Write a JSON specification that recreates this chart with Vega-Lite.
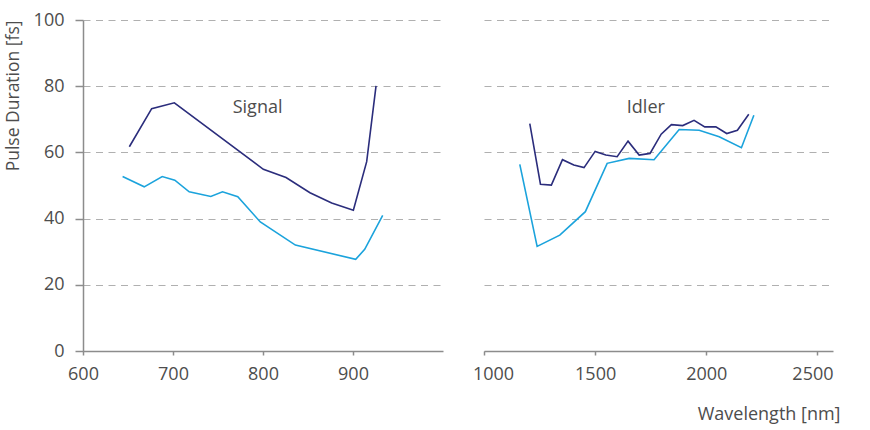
{
  "$schema": "https://vega.github.io/schema/vega-lite/v6.json",
  "padding": {"left": 4, "top": 11, "right": 5, "bottom": 5},
  "background": "white",
  "config": {
    "font": "Open Sans",
    "view": {"stroke": null},
    "axis": {
      "domainColor": "#8c8c8c",
      "domainWidth": 1.5,
      "tickColor": "#8c8c8c",
      "tickWidth": 1.5,
      "labelColor": "#4d4d4d",
      "labelFont": "Open Sans",
      "labelFontSize": 18,
      "labelFlush": false,
      "titleFont": "Open Sans",
      "titleFontSize": 18,
      "titleColor": "#4d4d4d",
      "titleFontWeight": "normal",
      "gridColor": "#b0b0b0",
      "gridWidth": 1.2,
      "gridDash": [7, 5.5]
    }
  },
  "datasets": {
    "signal": [
      {"series": "Series 1", "wavelength": 651.5, "duration": 61.7},
      {"series": "Series 1", "wavelength": 676.3, "duration": 73.2},
      {"series": "Series 1", "wavelength": 701.5, "duration": 75.0},
      {"series": "Series 1", "wavelength": 800.4, "duration": 54.9},
      {"series": "Series 1", "wavelength": 825.6, "duration": 52.4},
      {"series": "Series 1", "wavelength": 852.2, "duration": 47.8},
      {"series": "Series 1", "wavelength": 876.3, "duration": 44.7},
      {"series": "Series 1", "wavelength": 900.4, "duration": 42.5},
      {"series": "Series 1", "wavelength": 915.2, "duration": 57.2},
      {"series": "Series 1", "wavelength": 925.6, "duration": 80.1},
      {"series": "Series 2", "wavelength": 644, "duration": 52.7},
      {"series": "Series 2", "wavelength": 668, "duration": 49.6},
      {"series": "Series 2", "wavelength": 688, "duration": 52.7},
      {"series": "Series 2", "wavelength": 702, "duration": 51.6},
      {"series": "Series 2", "wavelength": 718, "duration": 48.1},
      {"series": "Series 2", "wavelength": 742, "duration": 46.7},
      {"series": "Series 2", "wavelength": 755, "duration": 48.1},
      {"series": "Series 2", "wavelength": 772, "duration": 46.6},
      {"series": "Series 2", "wavelength": 797, "duration": 39.0},
      {"series": "Series 2", "wavelength": 836, "duration": 32.0},
      {"series": "Series 2", "wavelength": 903, "duration": 27.7},
      {"series": "Series 2", "wavelength": 913, "duration": 30.7},
      {"series": "Series 2", "wavelength": 933, "duration": 41.0}
    ],
    "idler": [
      {"series": "Series 1", "wavelength": 1206, "duration": 68.7},
      {"series": "Series 1", "wavelength": 1254, "duration": 50.4},
      {"series": "Series 1", "wavelength": 1303, "duration": 50.1},
      {"series": "Series 1", "wavelength": 1353, "duration": 57.8},
      {"series": "Series 1", "wavelength": 1404, "duration": 56.2},
      {"series": "Series 1", "wavelength": 1450, "duration": 55.4},
      {"series": "Series 1", "wavelength": 1500, "duration": 60.3},
      {"series": "Series 1", "wavelength": 1548, "duration": 59.2},
      {"series": "Series 1", "wavelength": 1599, "duration": 58.7},
      {"series": "Series 1", "wavelength": 1648, "duration": 63.4},
      {"series": "Series 1", "wavelength": 1698, "duration": 59.2},
      {"series": "Series 1", "wavelength": 1747, "duration": 59.7},
      {"series": "Series 1", "wavelength": 1797, "duration": 65.5},
      {"series": "Series 1", "wavelength": 1843, "duration": 68.4},
      {"series": "Series 1", "wavelength": 1894, "duration": 68.1},
      {"series": "Series 1", "wavelength": 1945, "duration": 69.7},
      {"series": "Series 1", "wavelength": 1993, "duration": 67.7},
      {"series": "Series 1", "wavelength": 2043, "duration": 67.7},
      {"series": "Series 1", "wavelength": 2092, "duration": 65.7},
      {"series": "Series 1", "wavelength": 2140, "duration": 66.7},
      {"series": "Series 1", "wavelength": 2191, "duration": 71.5},
      {"series": "Series 2", "wavelength": 1161, "duration": 56.4},
      {"series": "Series 2", "wavelength": 1239, "duration": 31.6},
      {"series": "Series 2", "wavelength": 1341, "duration": 35.0},
      {"series": "Series 2", "wavelength": 1456, "duration": 42.1},
      {"series": "Series 2", "wavelength": 1554, "duration": 56.7},
      {"series": "Series 2", "wavelength": 1653, "duration": 58.2},
      {"series": "Series 2", "wavelength": 1765, "duration": 57.8},
      {"series": "Series 2", "wavelength": 1878, "duration": 66.9},
      {"series": "Series 2", "wavelength": 1968, "duration": 66.7},
      {"series": "Series 2", "wavelength": 2058, "duration": 64.7},
      {"series": "Series 2", "wavelength": 2158, "duration": 61.4},
      {"series": "Series 2", "wavelength": 2214, "duration": 71.2}
    ]
  },
  "spacing": 29,
  "hconcat": [
    {
      "width": 360,
      "height": 331,
      "layer": [
        {
          "data": {"name": "signal"},
          "mark": {"type": "line", "strokeWidth": 1.6},
          "encoding": {
            "x": {
              "field": "wavelength", "type": "quantitative",
              "scale": {"domain": [600, 1000], "nice": false},
              "axis": {"values": [600, 700, 800, 900], "format": "d", "title": null, "grid": false, "tickSize": 4, "labelPadding": 10, "labelFlush": false}
            },
            "y": {
              "field": "duration", "type": "quantitative",
              "scale": {"domain": [0, 100], "nice": false},
              "axis": {"values": [0, 20, 40, 60, 80, 100], "title": "Pulse Duration [fs]", "titleFontSize": 17.5, "titleAnchor": "end", "titlePadding": 11, "grid": true, "tickSize": 8, "labelPadding": 11}
            },
            "color": {
              "field": "series", "type": "nominal",
              "scale": {"domain": ["Series 1", "Series 2"], "range": ["#2b2d7c", "#1ba3dc"]},
              "legend": null
            }
          }
        },
        {
          "data": {"values": [{"label": "Signal"}]},
          "mark": {"type": "text", "fontSize": 18, "color": "#4d4d4d", "font": "Open Sans"},
          "encoding": {
            "x": {"datum": 794},
            "y": {"datum": 73.4},
            "text": {"field": "label"}
          }
        }
      ]
    },
    {
      "width": 349,
      "height": 331,
      "layer": [
        {
          "data": {"name": "idler"},
          "mark": {"type": "line", "strokeWidth": 1.6},
          "encoding": {
            "x": {
              "field": "wavelength", "type": "quantitative",
              "scale": {"domain": [1000, 2570], "nice": false},
              "axis": {
                "values": [1000, 1500, 2000, 2500],
                "format": "d",
                "title": "Wavelength [nm]",
                "titleAnchor": "end", "titleAlign": "right", "titleX": 356, "titleY": 68, "titleBaseline": "alphabetic",
                "grid": false, "tickSize": 4, "labelPadding": 10, "labelFlush": false,
                "labelOffset": {"condition": [{"test": "datum.value == 1000", "value": 9}, {"test": "datum.value == 2500", "value": -5}], "value": 0}
              }
            },
            "y": {
              "field": "duration", "type": "quantitative",
              "scale": {"domain": [0, 100], "nice": false},
              "axis": {"values": [0, 20, 40, 60, 80, 100], "title": null, "grid": true, "domain": false, "ticks": false, "labels": false}
            },
            "color": {
              "field": "series", "type": "nominal",
              "scale": {"domain": ["Series 1", "Series 2"], "range": ["#2b2d7c", "#1ba3dc"]},
              "legend": null
            }
          }
        },
        {
          "data": {"values": [{"label": "Idler"}]},
          "mark": {"type": "text", "fontSize": 18, "color": "#4d4d4d", "font": "Open Sans"},
          "encoding": {
            "x": {"datum": 1728},
            "y": {"datum": 73.4},
            "text": {"field": "label"}
          }
        }
      ]
    }
  ]
}
